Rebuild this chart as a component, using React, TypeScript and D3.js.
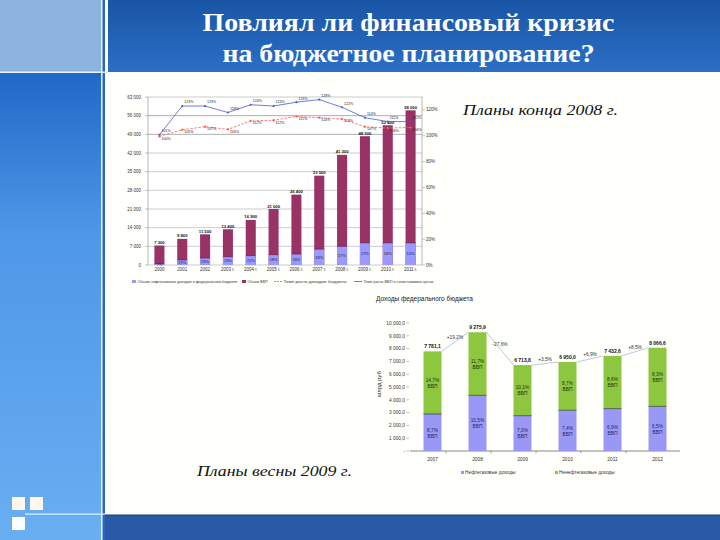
import React from 'react';
import * as d3 from 'd3';

// ---------- Slide text ----------
const titleLines = ['Повлиял ли финансовый кризис', 'на бюджетное планирование?'];
const captionTop = 'Планы конца 2008 г.';
const captionBottom = 'Планы весны 2009 г.';

// ---------- Top chart (end of 2008 plans) ----------
const topYears = ['2000', '2001', '2002', '2003 г.', '2004 г.', '2005 г.', '2006 г.', '2007 г.', '2008 г.', '2009 г.', '2010 г.', '2011 г.'];
const gdpValues = [7300, 9800, 11500, 13400, 16900, 21000, 26400, 33500, 41300, 48300, 52400, 58000];
const oilGasPart = [500, 1900, 2600, 3100, 3500, 3850, 4100, 5950, 7000, 8300, 8300, 8300];
const oilGasShareLabels = ['7%', '19%', '23%', '23%', '21%', '18%', '16%', '18%', '17%', '17%', '16%', '14%'];
const blueLineValues = [1.008, 1.23, 1.23, 1.18, 1.24, 1.23, 1.26, 1.28, 1.22, 1.14, 1.11, 1.11];
const redLineValues = [0.995, 1.046, 1.07, 1.05, 1.115, 1.12, 1.15, 1.14, 1.13, 1.07, 1.06, 1.064];
const topLeftTicks = [0, 7000, 14000, 21000, 28000, 35000, 42000, 49000, 56000, 63000];
const topRightTicks = [0, 0.2, 0.4, 0.6, 0.8, 1.0, 1.2];
const topLegendLabels = [
  'Объем нефтегазовых доходов в федеральном бюджете',
  'Объем ВВП',
  'Темп роста доходов бюджета',
  'Темп роста ВВП в сопоставимых ценах',
];

// ---------- Bottom chart (spring 2009 plans) ----------
const budgetTitle = 'Доходы федерального бюджета';
const budgetAxisTitle = 'млрд руб';
const budgetYears = ['2007', '2008', '2009', '2010', '2011', '2012'];
const oilGasRevenue = [2890.0, 4350.0, 2760.0, 3180.0, 3310.0, 3490.0];
const nonOilRevenue = [4891.1, 4925.9, 3953.8, 3770.0, 4122.6, 4576.6];
const oilGasPctLabels = ['8,7%', '10,5%', '7,0%', '7,4%', '6,9%', '6,5%'];
const nonOilPctLabels = ['14,7%', '11,7%', '10,1%', '8,7%', '8,6%', '8,3%'];
const growthLabels = ['+19,2%', '-27,6%', '+3,5%', '+6,9%', '+8,5%'];
const budgetTicks = [0, 1000, 2000, 3000, 4000, 5000, 6000, 7000, 8000, 9000, 10000];
const budgetLegend = ['Нефтегазовые доходы', 'Ненефтегазовые доходы'];

const ruNum = (v: number, digits: number) =>
  d3.format(`,.${digits}f`)(v).replace(/,/g, ' ').replace('.', ',');

export default function App() {
  // top chart scales
  const tx = d3.scaleBand<string>().domain(topYears).range([148, 422]).paddingInner(0.56).paddingOuter(0.28);
  const tyL = d3.scaleLinear().domain([0, 63000]).range([265, 97]);
  const tyR = d3.scaleLinear().domain([0, 1.3]).range([265, 97]);
  const cx = (c: string) => (tx(c) as number) + tx.bandwidth() / 2;
  const blueLine = d3.line<number>().x((_, i) => cx(topYears[i])).y((d) => tyR(d));
  const redLine = d3.line<number>().x((_, i) => cx(topYears[i])).y((d) => tyR(d));

  // bottom chart scales
  const bx = d3.scaleBand<string>().domain(budgetYears).range([410, 680]).paddingInner(0.6).paddingOuter(0.3);
  const by = d3.scaleLinear().domain([0, 10000]).range([451, 323]);
  const totals = budgetYears.map((_, i) => oilGasRevenue[i] + nonOilRevenue[i]);

  const tiny = 'Arial, "Liberation Sans", sans-serif';
  const serif = '"Liberation Serif", "Times New Roman", serif';

  return (
    <svg width={720} height={540} style={{ position: 'absolute', left: 0, top: 0 }}>
      <defs>
        <linearGradient id="hdr" x1="0" y1="0" x2="0" y2="1">
          <stop offset="0" stopColor="#1a55a5" />
          <stop offset="1" stopColor="#2b6fc5" />
        </linearGradient>
        <linearGradient id="side" x1="0" y1="0" x2="0" y2="1">
          <stop offset="0" stopColor="#2068c6" />
          <stop offset="0.35" stopColor="#4f98e8" />
          <stop offset="1" stopColor="#6aaef2" />
        </linearGradient>
      </defs>

      {/* background */}
      <rect x={0} y={0} width={720} height={540} fill="#fffffb" />
      {/* left strip */}
      <rect x={0} y={0} width={101} height={72} fill="#8db3df" />
      <rect x={0} y={72} width={101} height={468} fill="url(#side)" />
      <rect x={101} y={0} width={1.5} height={540} fill="#e8f0fa" />
      <rect x={102.5} y={0} width={2.5} height={540} fill="#2a66be" />
      <rect x={105} y={0} width={3} height={540} fill="#ffffff" />
      <rect x={0} y={71.5} width={108} height={1.5} fill="#e8f3ff" />
      {/* header */}
      <rect x={108} y={0} width={612} height={72} fill="url(#hdr)" />
      {titleLines.map((t, i) => (
        <text
          key={t}
          x={408.5}
          y={31 + i * 31}
          textAnchor="middle"
          fill="#ffffff"
          fontFamily={serif}
          fontWeight="bold"
          fontSize={25}
          textLength={i === 0 ? 412 : 372}
          lengthAdjust="spacingAndGlyphs"
        >
          {t}
        </text>
      ))}
      {/* footer band */}
      <rect x={105} y={515} width={615} height={25} fill="#2a5aa5" />
      <rect x={105} y={514.5} width={615} height={1} fill="#1d3f78" />
      <rect x={25} y={513.5} width={80} height={1.2} fill="#e8f3ff" />
      <rect x={12} y={497} width={13} height={13} fill="#fff6ee" />
      <rect x={30} y={497} width={13} height={13} fill="#fff6ee" />
      <rect x={12} y={517} width={13} height={13} fill="#fbfdff" />

      {/* captions */}
      <text x={463} y={115} fontFamily={serif} fontStyle="italic" fontSize={15} fill="#111" textLength={155} lengthAdjust="spacingAndGlyphs">
        {captionTop}
      </text>
      <text x={197} y={476} fontFamily={serif} fontStyle="italic" fontSize={15} fill="#111" textLength={155} lengthAdjust="spacingAndGlyphs">
        {captionBottom}
      </text>

      {/* ---------- TOP CHART ---------- */}
      <g>
        <rect x={148} y={97} width={274} height={168} fill="#ffffff" />
        {topLeftTicks.map((t) => (
          <g key={t}>
            <line x1={148} x2={422} y1={tyL(t)} y2={tyL(t)} stroke={t === 49000 || t === 56000 ? '#777' : '#aaa'} strokeWidth={0.6} />
            <line x1={145} x2={148} y1={tyL(t)} y2={tyL(t)} stroke="#888" strokeWidth={0.5} />
            <text x={141} y={tyL(t) + 1.5} textAnchor="end" fontFamily={tiny} fontSize={4.5} fill="#333">
              {t === 0 ? '0' : ruNum(t, 0)}
            </text>
          </g>
        ))}
        <line x1={148} x2={148} y1={97} y2={265} stroke="#888" strokeWidth={0.6} />
        <line x1={422} x2={422} y1={97} y2={265} stroke="#888" strokeWidth={0.6} />
        {topRightTicks.map((t) => (
          <g key={t}>
            <line x1={422} x2={425} y1={tyR(t)} y2={tyR(t)} stroke="#888" strokeWidth={0.5} />
            <text x={426} y={tyR(t) + 1.5} fontFamily={tiny} fontSize={4.5} fill="#333">
              {Math.round(t * 100)}%
            </text>
          </g>
        ))}
        {topYears.map((c, i) => (
          <g key={c}>
            <rect x={tx(c)} y={tyL(gdpValues[i])} width={tx.bandwidth()} height={265 - tyL(gdpValues[i])} fill="#993366" />
            <rect x={tx(c)} y={tyL(oilGasPart[i])} width={tx.bandwidth()} height={265 - tyL(oilGasPart[i])} fill="#9999ff" />
            <line x1={tx(c)} x2={(tx(c) as number) + tx.bandwidth()} y1={tyL(oilGasPart[i])} y2={tyL(oilGasPart[i])} stroke="#660033" strokeWidth={0.5} />
            <text x={cx(c)} y={tyL(gdpValues[i]) - 1.5} textAnchor="middle" fontFamily={tiny} fontWeight="bold" fontSize={4.2} fill="#111">
              {ruNum(gdpValues[i], 0)}
            </text>
            <text x={cx(c)} y={(tyL(oilGasPart[i]) + 265) / 2 + 1.5} textAnchor="middle" fontFamily={tiny} fontSize={4} fill="#223">
              {oilGasShareLabels[i]}
            </text>
            <text x={cx(c)} y={271} textAnchor="middle" fontFamily={tiny} fontSize={4.5} fill="#333">
              {c}
            </text>
          </g>
        ))}
        <path d={redLine(redLineValues) as string} fill="none" stroke="#ff5a5a" strokeWidth={0.8} strokeDasharray="2.5,1.5" />
        <path d={blueLine(blueLineValues) as string} fill="none" stroke="#4a5ad8" strokeWidth={0.8} />
        {topYears.map((c, i) => (
          <g key={'m' + c}>
            <rect x={cx(c) - 1} y={tyR(redLineValues[i]) - 1} width={2} height={2} fill="#ff5a5a" transform={`rotate(45 ${cx(c)} ${tyR(redLineValues[i])})`} />
            <circle cx={cx(c)} cy={tyR(blueLineValues[i])} r={1.1} fill="#4a5ad8" />
            <text x={cx(c) + 2} y={tyR(redLineValues[i]) + 3.5} fontFamily={tiny} fontSize={3.6} fill="#222">
              {Math.round(redLineValues[i] * 100)}%
            </text>
            <text x={cx(c) + 2} y={tyR(blueLineValues[i]) - 2.6} fontFamily={tiny} fontSize={3.6} fill="#222">
              {Math.round(blueLineValues[i] * 100)}%
            </text>
          </g>
        ))}
        {/* legend */}
        <rect x={132} y={280} width={4} height={3} fill="#9999ff" />
        <text x={137.5} y={283} fontFamily={tiny} fontSize={3.8} fill="#333" textLength={100} lengthAdjust="spacingAndGlyphs">{topLegendLabels[0]}</text>
        <rect x={242} y={280} width={4} height={3} fill="#993366" />
        <text x={247.5} y={283} fontFamily={tiny} fontSize={3.8} fill="#333" textLength={20} lengthAdjust="spacingAndGlyphs">{topLegendLabels[1]}</text>
        <line x1={274} x2={282} y1={281.5} y2={281.5} stroke="#ff5a5a" strokeWidth={0.8} strokeDasharray="2,1" />
        <text x={283.5} y={283} fontFamily={tiny} fontSize={3.8} fill="#333" textLength={63} lengthAdjust="spacingAndGlyphs">{topLegendLabels[2]}</text>
        <line x1={354} x2={362} y1={281.5} y2={281.5} stroke="#4a5ad8" strokeWidth={0.8} />
        <text x={363.5} y={283} fontFamily={tiny} fontSize={3.8} fill="#333" textLength={70} lengthAdjust="spacingAndGlyphs">{topLegendLabels[3]}</text>
      </g>

      {/* ---------- BOTTOM CHART ---------- */}
      <g>
        <text x={376} y={301} fontFamily={tiny} fontSize={6.5} fill="#222">{budgetTitle}</text>
        <text transform="translate(381,384) rotate(-90)" textAnchor="middle" fontFamily={tiny} fontSize={6} fill="#222">{budgetAxisTitle}</text>
        {budgetTicks.map((t) => (
          <g key={t}>
            <text x={405} y={by(t) + 1.8} textAnchor="end" fontFamily={tiny} fontSize={4.8} fill="#333">
              {t === 0 ? '-' : ruNum(t, 1)}
            </text>
            <line x1={406.5} x2={409} y1={by(t)} y2={by(t)} stroke="#777" strokeWidth={0.5} />
          </g>
        ))}
        <line x1={410} x2={680} y1={451} y2={451} stroke="#555" strokeWidth={0.7} />
        {budgetYears.map((c, i) => {
          const x0 = bx(c) as number;
          const w = bx.bandwidth();
          const yb = by(oilGasRevenue[i]);
          const yt = by(totals[i]);
          return (
            <g key={c}>
              <rect x={x0} y={yb} width={w} height={451 - yb} fill="#9999f5" />
              <rect x={x0} y={yt} width={w} height={yb - yt} fill="#8dc63f" />
              <line x1={x0} x2={x0 + w} y1={yb} y2={yb} stroke="#2d3a2a" strokeWidth={0.7} />
              <text x={x0 + w / 2} y={yt - 3} textAnchor="middle" fontFamily={tiny} fontWeight="bold" fontSize={5} fill="#111">
                {ruNum(totals[i], 1)}
              </text>
              <text x={x0 + w / 2} y={(yb + 451) / 2 - 1} textAnchor="middle" fontFamily={tiny} fontSize={4.8} fill="#222266">
                {oilGasPctLabels[i]}
              </text>
              <text x={x0 + w / 2} y={(yb + 451) / 2 + 5} textAnchor="middle" fontFamily={tiny} fontSize={4.8} fill="#222266">
                ВВП
              </text>
              <text x={x0 + w / 2} y={(yt + yb) / 2 - 1} textAnchor="middle" fontFamily={tiny} fontSize={4.8} fill="#1d3310">
                {nonOilPctLabels[i]}
              </text>
              <text x={x0 + w / 2} y={(yt + yb) / 2 + 5} textAnchor="middle" fontFamily={tiny} fontSize={4.8} fill="#1d3310">
                ВВП
              </text>
              <text x={x0 + w / 2} y={461} textAnchor="middle" fontFamily={tiny} fontSize={4.8} fill="#333">
                {c}
              </text>
              {i > 0 && (
                <line x1={x0 - bx.step() * 0.5} x2={x0 - bx.step() * 0.5} y1={451} y2={453.5} stroke="#555" strokeWidth={0.5} />
              )}
              {i < budgetYears.length - 1 && (() => {
                const xn = bx(budgetYears[i + 1]) as number;
                const yn = by(totals[i + 1]);
                const mx = (x0 + w + xn) / 2;
                const my = (yt + yn) / 2;
                return (
                  <g>
                    <line x1={x0 + w} y1={yt} x2={xn} y2={yn} stroke="#a9bdd8" strokeWidth={0.8} />
                    <text x={mx} y={my - 3} textAnchor="middle" fontFamily={tiny} fontSize={4.8} fill="#333">
                      {growthLabels[i]}
                    </text>
                  </g>
                );
              })()}
            </g>
          );
        })}
        <rect x={461} y={471} width={3} height={3} fill="#9999f5" />
        <text x={465} y={474} fontFamily={tiny} fontSize={4.8} fill="#333">{budgetLegend[0]}</text>
        <rect x={555} y={471} width={3} height={3} fill="#8dc63f" />
        <text x={559} y={474} fontFamily={tiny} fontSize={4.8} fill="#333">{budgetLegend[1]}</text>
      </g>
    </svg>
  );
}
